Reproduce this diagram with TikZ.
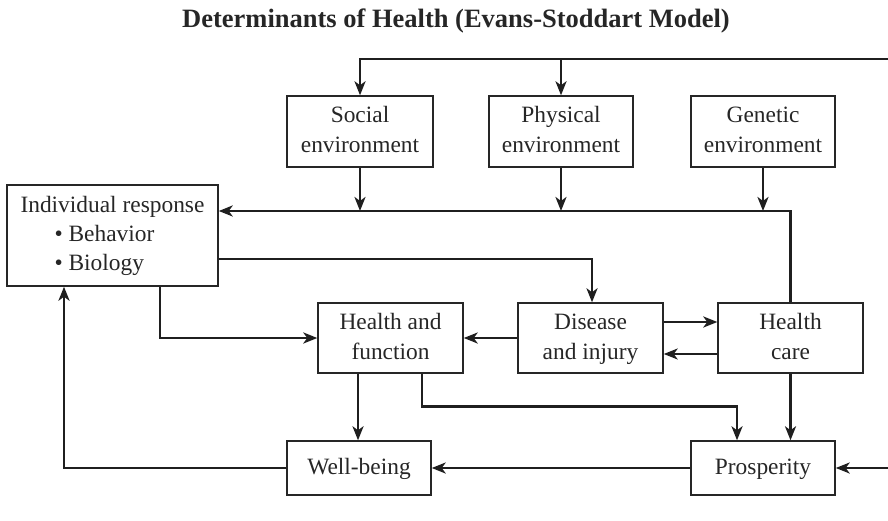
\documentclass[tikz,border=0pt]{standalone}
\usepackage{fontspec}
\setmainfont{Liberation Serif}
\usetikzlibrary{arrows.meta,calc}
\begin{document}
\begin{tikzpicture}[x=1pt,y=-1pt,
  box/.style={draw=black!85,line width=1.4pt,inner sep=0pt,align=center,
    font=\fontsize{23.4}{30}\selectfont,text=black!85},
  arr/.style={line width=2.7pt,draw=black!88,line join=miter,
    -{Stealth[length=14pt,width=11pt,inset=4pt]}}]
\useasboundingbox (0,0) rectangle (888,521);
\node[font=\bfseries\fontsize{26.5}{30}\selectfont,text=black!85] (title) at (456,21) {Determinants of Health (Evans-Stoddart Model)};
\node[box,minimum width=146pt,minimum height=71pt] (social) at (360,131.5) {\strut Social\\environment\strut};
\node[box,minimum width=144pt,minimum height=71pt] (physical) at (561,131.5) {\strut Physical\\environment\strut};
\node[box,minimum width=144pt,minimum height=71pt] (genetic) at (763,131.5) {\strut Genetic\\environment\strut};
\node[box,minimum width=211pt,minimum height=101pt,align=left,font=\fontsize{23.4}{29}\selectfont] (indiv) at (112.5,235.5) {\strut Individual response\\\hspace*{34pt}\textbullet\ Behavior\\\hspace*{34pt}\textbullet\ Biology\strut};
\node[box,minimum width=145pt,minimum height=70pt] (hf) at (390.5,338) {\strut Health and\\function\strut};
\node[box,minimum width=145pt,minimum height=70pt] (dis) at (590.5,338) {\strut Disease\\and injury\strut};
\node[box,minimum width=145pt,minimum height=70pt] (hc) at (790.5,338) {\strut Health\\care\strut};
\node[box,minimum width=144pt,minimum height=54pt] (wb) at (359,468) {\strut Well-being};
\node[box,minimum width=144pt,minimum height=54pt] (pros) at (763,468) {\strut Prosperity};
\coordinate (topR) at (888,59);
\coordinate (botR) at (888,468);
% top feed
\draw[arr] (topR) -| (social.north);
\draw[arr] (physical.north |- topR) -- (physical.north);
% environment to line
\coordinate (irin) at ([yshift=24.5pt]indiv.east);
\draw[arr] (hc.north) |- (irin);
\draw[arr] (social.south) -- (social.south |- irin);
\draw[arr] (physical.south) -- (physical.south |- irin);
\draw[arr] (genetic.south) -- (genetic.south |- irin);
% individual to disease
\draw[arr] ([yshift=-23.5pt]indiv.east) -| ([xshift=1.5pt]dis.north);
% individual to health and function
\draw[arr] ([xshift=47.5pt]indiv.south) |- (hf.west);
% well-being back to individual
\draw[arr] (wb.west) -| ([xshift=-48.5pt]indiv.south);
% middle row
\draw[arr] (dis.west) -- (hf.east);
\draw[arr] ([yshift=16pt]dis.east) -- ([yshift=16pt]hc.west);
\draw[arr] ([yshift=-16pt]hc.west) -- ([yshift=-16pt]dis.east);
% down
\draw[arr] ([xshift=-32.5pt]hf.south) -- ([xshift=-32.5pt]hf.south |- wb.north);
\draw[arr] ([xshift=31.5pt]hf.south) -- ++(0,33) -| ([xshift=-26pt]pros.north);
\draw[arr] (hc.south) -- (hc.south |- pros.north);
% bottom
\draw[arr] (pros.west) -- (wb.east);
\draw[arr] (botR) -- (pros.east);
\end{tikzpicture}
\end{document}
